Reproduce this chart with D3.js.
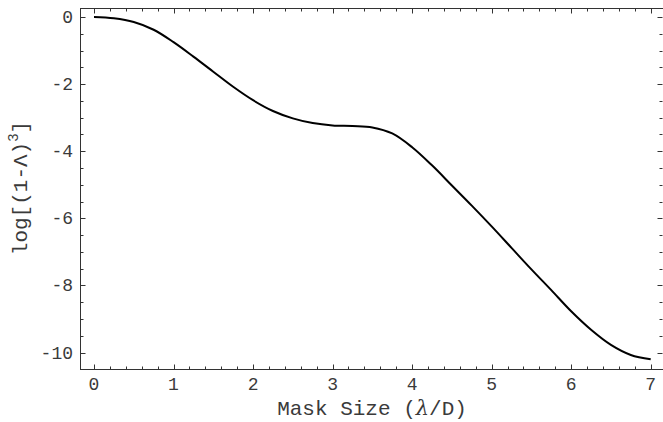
<!DOCTYPE html>
<html lang="en">
<head>
<meta charset="UTF-8">
<title>Mask size curve</title>
<script src="https://cdn.jsdelivr.net/npm/d3@7"></script>
<style>
  body { margin: 0; background: #fff; }
  text { font-family: "Liberation Mono", "Courier New", monospace; fill: #3a3a3a; }
</style>
</head>
<body>
<svg id="chart" width="663" height="422"></svg>
<script>
// values
const maskSize = [0, 0.25, 0.5, 0.75, 1, 1.25, 1.5, 1.75, 2, 2.25, 2.5, 2.75, 3, 3.25,
                  3.5, 3.75, 4, 4.25, 4.5, 4.75, 5, 5.25, 5.5, 5.75, 6, 6.25, 6.5, 6.75, 7];
const logLeak = [0, -0.04, -0.15, -0.38, -0.75, -1.18, -1.63, -2.08, -2.48, -2.8, -3.02, -3.16, -3.23, -3.25,
                 -3.29, -3.47, -3.88, -4.42, -5.02, -5.62, -6.24, -6.88, -7.52, -8.14, -8.77, -9.32, -9.77, -10.07, -10.2];
const xTicks = [0, 1, 2, 3, 4, 5, 6, 7];
const yTicks = [0, -2, -4, -6, -8, -10];

const svg = d3.select("#chart");
const frame = { left: 80.5, top: 8.5, right: 663.5, bottom: 369.5 };

const x = d3.scaleLinear().domain([0, 7]).range([94, 650.7]);
const y = d3.scaleLinear().domain([0, -10]).range([17, 352.6]);

// minor ticks
const xMinor = d3.range(-0.2, 7.45, 0.2).filter(v => Math.abs(v - Math.round(v)) > 0.01);
const yMinor = d3.range(0.5, -10.6, -0.5).filter(v => Math.abs(v / 2 - Math.round(v / 2)) > 0.01);

const g = svg.append("g").attr("stroke", "#333").attr("stroke-width", 1);

// frame
g.append("rect")
  .attr("x", frame.left).attr("y", frame.top)
  .attr("width", frame.right - frame.left).attr("height", frame.bottom - frame.top)
  .attr("fill", "none");

function ticksX(vals, len) {
  vals.forEach(v => {
    const px = Math.round(x(v)) + 0.5;
    if (px < frame.left || px > frame.right) return;
    g.append("line").attr("x1", px).attr("x2", px).attr("y1", frame.bottom).attr("y2", frame.bottom - len);
    g.append("line").attr("x1", px).attr("x2", px).attr("y1", frame.top).attr("y2", frame.top + len);
  });
}
function ticksY(vals, len) {
  vals.forEach(v => {
    const py = Math.round(y(v)) + 0.5;
    if (py < frame.top || py > frame.bottom) return;
    g.append("line").attr("y1", py).attr("y2", py).attr("x1", frame.left).attr("x2", frame.left + len);
    g.append("line").attr("y1", py).attr("y2", py).attr("x1", frame.right - 1).attr("x2", frame.right - 1 - len);
  });
}
ticksX(xTicks, 5);
ticksX(xMinor, 3);
ticksY(yTicks, 5);
ticksY(yMinor, 3);

// tick labels
svg.append("g").selectAll("text").data(xTicks).join("text")
  .attr("x", d => x(d)).attr("y", 390)
  .attr("text-anchor", "middle")
  .attr("font-size", 18)
  .text(d => d);

svg.append("g").selectAll("text").data(yTicks).join("text")
  .attr("x", 73).attr("y", d => y(d) + 6)
  .attr("text-anchor", "end")
  .attr("font-size", 18)
  .text(d => String(d));

// axis titles
svg.append("text")
  .attr("x", 372).attr("y", 415)
  .attr("text-anchor", "middle")
  .attr("font-size", 21)
  .html('Mask Size (<tspan font-family="DejaVu Serif" font-style="italic">λ</tspan>/D)');

const yl = svg.append("text")
  .attr("transform", "translate(27,188) rotate(-90)")
  .attr("text-anchor", "middle")
  .attr("font-size", 21);
yl.append("tspan").text("log[(1-Λ)");
yl.append("tspan").attr("font-size", 14).attr("dy", -9).text("3");
yl.append("tspan").attr("dy", 9).text("]");

// curve
const pts = maskSize.map((m, i) => [m, logLeak[i]]);
svg.append("path")
  .datum(pts)
  .attr("fill", "none")
  .attr("stroke", "#000")
  .attr("stroke-width", 2)
  .attr("d", d3.line().x(d => x(d[0])).y(d => y(d[1])).curve(d3.curveCatmullRom.alpha(0.5)));
</script>
</body>
</html>
